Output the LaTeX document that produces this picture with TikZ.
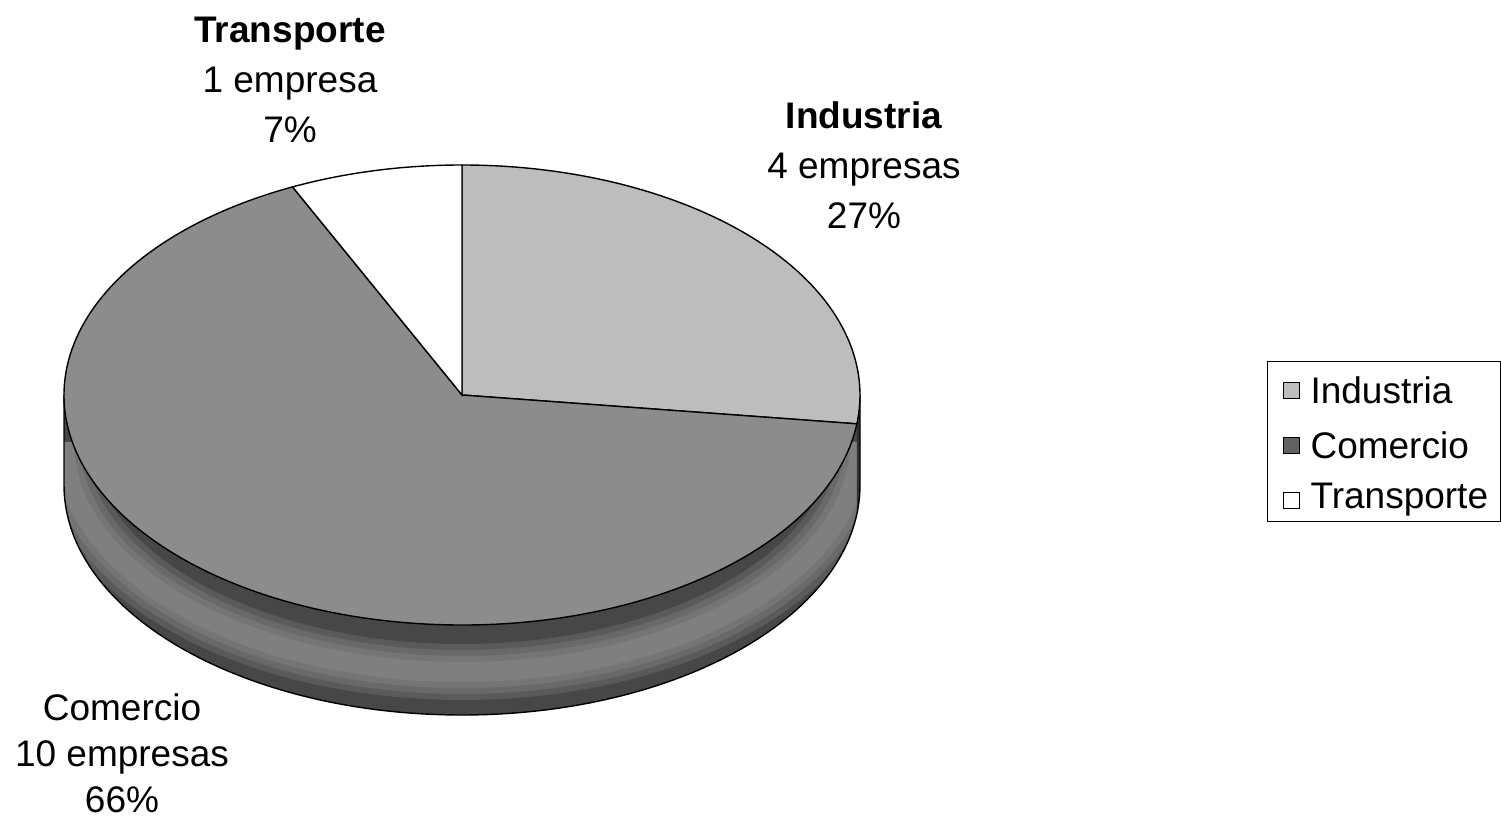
\documentclass[tikz,border=0pt]{standalone}
\usepackage{fontspec}
\setmainfont{Liberation Sans}
\usetikzlibrary{positioning}
\tikzset{
  slice/.style = {draw=black, line width=1.4pt},
  lab/.style = {align=center, font=\fontsize{37}{50}\selectfont},
  key/.style = {rectangle, draw=black, line width=0.8pt, minimum size=#1,
                inner sep=0pt, outer sep=0pt},
  key/.default = 16pt
}
\definecolor{indcol}{gray}{0.74}
\definecolor{comcol}{gray}{0.55}
\definecolor{sidecol}{gray}{0.28}
\definecolor{bandcol}{gray}{0.66}

\begin{document}
\begin{tikzpicture}[x=1pt,y=1pt]
	\def \rx{398}
	\def \ry{230}
	\def \pieh{90}
	\def \angi{-7.2}    % Industria / Comercio
	\def \angc{115.2}   % Comercio / Transporte
	
	\useasboundingbox (0,0) rectangle (1501,819);
	\fill[white] (0,0) rectangle (1501,819);
	
	\coordinate (c) at (462,424);
	
	% Side
	\fill[sidecol] (c) ++(-\rx,0) arc[start angle=180, end angle=352.8, x radius=\rx, y radius=\ry]
		-- ++(0,-\pieh) arc[start angle=352.8, end angle=180, x radius=\rx, y radius=\ry] -- cycle;
	\begin{scope}
		\clip (c) ++(-\rx,0) arc[start angle=180, end angle=352.8, x radius=\rx, y radius=\ry]
			-- ++(0,-\pieh) arc[start angle=352.8, end angle=180, x radius=\rx, y radius=\ry] -- cycle;
		\foreach \w in {56,44,32,20}
			\draw[bandcol, line width=\w pt, opacity=0.2] (c) ++(0,-47) ++(-\rx,0)
				arc[start angle=180, end angle=360, x radius=\rx, y radius=\ry];
	\end{scope}
	\fill[sidecol!70!black] (c) ++(-7.2:398 and 230) arc[start angle=\angi, end angle=0, x radius=\rx, y radius=\ry]
		-- ++(0,-\pieh) arc[start angle=0, end angle=\angi, x radius=\rx, y radius=\ry] -- cycle;
	\draw[black, line width=1.4pt] (c) ++(-\rx,0) -- ++(0,-\pieh)
		arc[start angle=180, end angle=360, x radius=\rx, y radius=\ry] -- ++(0,\pieh);
	
	% Slices
	\draw[slice, fill=indcol] (c) -- ++(0,\ry) arc[start angle=90, end angle=\angi, x radius=\rx, y radius=\ry] -- cycle;
	\draw[slice, fill=comcol] (c) -- ++(-7.2:398 and 230) arc[start angle=\angi, end angle=\angc-360, x radius=\rx, y radius=\ry] -- cycle;
	\draw[slice, fill=white] (c) -- ++(115.2:398 and 230) arc[start angle=\angc, end angle=90, x radius=\rx, y radius=\ry] -- cycle;
	
	% Labels
	\node[lab] (transp) at (290,739) {\textbf{Transporte}\\1 empresa\\7\%};
	\node[lab] (indus) at (864,654) {\textbf{Industria}\\4 empresas\\27\%};
	\node[lab, font=\fontsize{37}{46}\selectfont] (comer) at (122,66) {Comercio\\10 empresas\\66\%};
	
	% Legend
	\draw[black, line width=1pt] (1267,457) rectangle (1500,297);
	\node[key, fill=indcol] (kind) at (1291,429) {};
	\node[key, fill=comcol!70!black] (kcom) at (1291,374) {};
	\node[key, fill=white] (ktra) at (1291,319) {};
	\node[font=\fontsize{37}{44}\selectfont, right=8pt of kind] (tind) {Industria};
	\node[font=\fontsize{37}{44}\selectfont, right=8pt of kcom] (tcom) {Comercio};
	\node[font=\fontsize{37}{44}\selectfont, right=8pt of ktra] (ttra) {Transporte};
	
\end{tikzpicture}
\end{document}
